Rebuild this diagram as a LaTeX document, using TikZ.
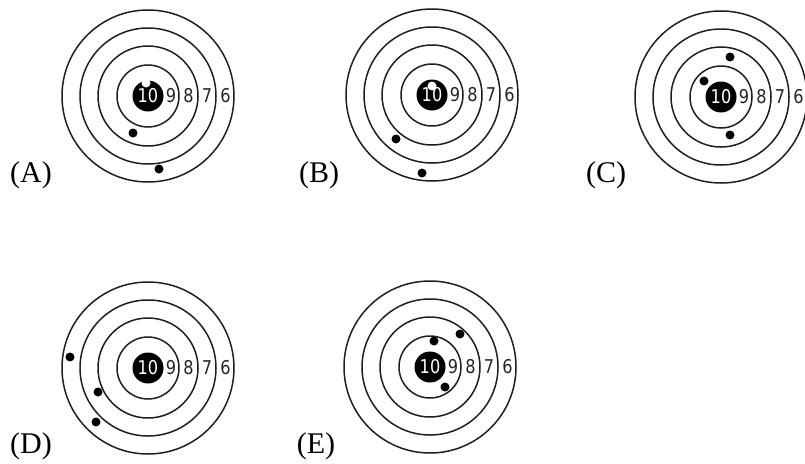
\documentclass[tikz,border=0pt]{standalone}
\usepackage{fontspec}
\setmainfont{Liberation Serif}
\newfontfamily\digitfont{DejaVu Sans}
\tikzset{
  ring/.style={draw=black!88, line width=1.5pt},
  bull/.style={fill=black, draw=none},
  hit/.style={fill=black, draw=none},
  hole/.style={fill=white, draw=none},
  num/.style={font=\digitfont\fontsize{19}{19}\selectfont, inner sep=0pt, text=black!85},
  lbl/.style={font=\fontsize{30}{30}\selectfont, inner sep=0pt, anchor=base}
}
\newcommand\drawtarget[3]{%
  \begin{scope}[shift={(#1,#2)}]
    \foreach \r in {31,50,68,86} \draw[ring] (0,0) circle[radius=\r pt];
    \fill[bull] (0,0) circle[radius=15.5pt];
    \node[num, text=white] (#3ten) at (0,0) {\scalebox{0.85}[1]{10}};
    \node[num] (#3nine) at (23,0) {\scalebox{0.85}[1]{9}};
    \node[num] (#3eight) at (40.5,0) {\scalebox{0.85}[1]{8}};
    \node[num] (#3seven) at (59,0) {\scalebox{0.85}[1]{7}};
    \node[num] (#3six) at (77.5,0) {\scalebox{0.85}[1]{6}};
  \end{scope}}
\begin{document}
\begin{tikzpicture}[x=1pt,y=-1pt]
\useasboundingbox (0,0) rectangle (805,463);
\clip (0,0) rectangle (805,463);
\fill[white] (0,0) rectangle (805,463);
% A
\drawtarget{148}{96}{A}
\fill[hole] (146,83) circle[radius=4.5pt];
\fill[hit] (133,133) circle[radius=4.5pt];
\fill[hit] (159,169) circle[radius=4.5pt];
\node[lbl] (labA) at (31,182) {(A)};
% B
\drawtarget{432}{95}{B}
\fill[hole] (432,86) circle[radius=4.5pt];
\fill[hit] (396,139) circle[radius=4.5pt];
\fill[hit] (422,173) circle[radius=4.5pt];
\node[lbl] (labB) at (319,182) {(B)};
% C
\drawtarget{721}{97}{C}
\fill[hit] (730,57) circle[radius=4.5pt];
\fill[hit] (704,81) circle[radius=4.5pt];
\fill[hit] (730,135) circle[radius=4.5pt];
\node[lbl] (labC) at (606,182) {(C)};
% D
\drawtarget{148}{368}{D}
\fill[hit] (70,357) circle[radius=4.5pt];
\fill[hit] (98,392) circle[radius=4.5pt];
\fill[hit] (96,422) circle[radius=4.5pt];
\node[lbl] (labD) at (31,453) {(D)};
% E
\drawtarget{430}{367}{E}
\fill[hit] (434,341) circle[radius=4.5pt];
\fill[hit] (460,334) circle[radius=4.5pt];
\fill[hit] (445,387) circle[radius=4.5pt];
\node[lbl] (labE) at (316,453) {(E)};
\end{tikzpicture}
\end{document}
